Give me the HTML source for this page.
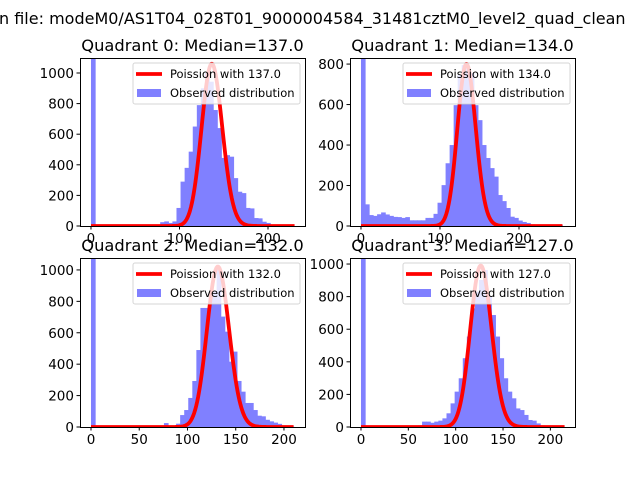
<!DOCTYPE html>
<html><head><meta charset="utf-8"><style>
body{margin:0;background:#fff}
svg{display:block;font-family:"DejaVu Sans","Liberation Sans",sans-serif}
</style></head><body>
<svg id="fig" width="640" height="480" viewBox="0 0 640 480" xmlns="http://www.w3.org/2000/svg">
<rect width="640" height="480" fill="#fff"/>
<text x="-1" y="24" font-size="16" fill="#000">n file: modeM0/AS1T04_028T01_9000004584_31481cztM0_level2_quad_clean</text>
</svg>
<script>
// ---- data ----
const medians = [137.0, 134.0, 132.0, 127.0];
const binWidths = [4.6, 5.1, 4.2, 4.3];
const peakHeights = [1060, 800, 1021, 990];
const countsQ0 = [1200,0,0,0,0,0,0,0,0,0,0,0,0,0,0,0,0,25,30,20,30,118,290,380,486,650,790,900,1000,943,758,640,445,463,453,313,224,215,118,115,52,50,28,20,5,3,0,0,0,0];
const countsQ1 = [900,107,54,50,58,67,57,50,45,44,40,44,28,28,28,28,40,40,60,115,202,310,400,597,745,795,780,755,597,523,400,336,286,244,153,123,89,46,40,27,20,15,8,5,3,3,3,3,3,3];
const countsQ2 = [1200,0,0,0,0,0,0,0,0,0,0,0,0,0,0,0,0,0,25,0,5,21,76,108,185,293,490,758,758,822,862,1015,703,607,416,480,293,225,153,153,108,72,68,46,36,28,20,10,5,2];
const countsQ3 = [1200,0,0,0,0,0,0,0,0,0,0,0,0,0,10,33,33,26,33,39,53,84,145,217,299,422,555,728,831,902,963,800,687,555,422,299,217,176,114,104,74,43,39,22,10,5,2,1,0,0];
const xTicksQ0 = [0,100,200];
const xTicksQ1 = [0,100,200];
const xTicksQ2 = [0,50,100,150,200];
const xTicksQ3 = [0,50,100,150,200];
const yTicksQ0 = [0,200,400,600,800,1000];
const yTicksQ1 = [0,200,400,600,800];
const yTicksQ2 = [0,200,400,600,800,1000];
const yTicksQ3 = [0,200,400,600,800,1000];

const counts = [countsQ0,countsQ1,countsQ2,countsQ3];
const xTicks = [xTicksQ0,xTicksQ1,xTicksQ2,xTicksQ3];
const yTicks = [yTicksQ0,yTicksQ1,yTicksQ2,yTicksQ3];
const boxes = [[80,58,225,168],[350,58,225,168],[80,258,225,169],[350,258,225,169]];
const xDom = [[-12.4,241.8],[-13.9,270.9],[-11.4,221.8],[-11.6,226]];
const yDom = [1098,830,1076,1037];

const NS="http://www.w3.org/2000/svg";
const svg=document.getElementById('fig');
function mk(tag,attrs,parent){const e=document.createElementNS(NS,tag);for(const k in attrs)e.setAttribute(k,attrs[k]);(parent||svg).appendChild(e);return e;}
function lgamma(n){let s=0;for(let i=2;i<=n;i++)s+=Math.log(i);return s;}

for(let q=0;q<4;q++){
  const [bx,by,bw,bh]=boxes[q];
  const sx=v=>bx+(v-xDom[q][0])/(xDom[q][1]-xDom[q][0])*bw;
  const sy=v=>by+bh-v/yDom[q]*bh;
  const g=mk('g',{});
  
  
  const cid='clip'+q;
  const cp=mk('clipPath',{id:cid},g);mk('rect',{x:bx,y:by,width:bw,height:bh},cp);
  const bars=mk('g',{'clip-path':'url(#'+cid+')'},g);
  
  
  const w=binWidths[q];
  counts[q].forEach((c,k)=>{
    if(c<=0)return;
    const x0=sx(k*w),x1=sx((k+1)*w);
    const r=mk('rect',{x:x0,y:sy(c),width:x1-x0+0.6,height:sy(0)-sy(c),fill:'#8080ff'},bars);
    
    
  });
  // poisson curve
  const lam=medians[q];const xmax=w*counts[q].length;
  const lp0=lam*Math.log(lam)-lam-lgamma(Math.round(lam));
  let d='';
  for(let x=0;x<=Math.round(xmax);x++){
    const lp=x*Math.log(Math.max(lam,1e-9))-lam-lgamma(x);
    const v=peakHeights[q]*Math.exp(lp-lp0);
    d+=(x?'L':'M')+sx(x).toFixed(2)+' '+sy(v).toFixed(2);
  }
  const pl=mk('path',{d:d,fill:'none',stroke:'#ff0000','stroke-width':3.8,'stroke-linejoin':'round','clip-path':'url(#'+cid+')'},g);
  
  
  // frame
  const fr=mk('rect',{x:bx+0.5,y:by+0.5,width:bw,height:bh,fill:'none',stroke:'#000','stroke-width':1},g);
  
  
  // ticks
  xTicks[q].forEach(t=>{
    const x=sx(t);
    mk('line',{x1:x,x2:x,y1:by+bh,y2:by+bh+3.5,stroke:'#000'},g);
    const tx=mk('text',{x:x,y:by+bh+17,'font-size':13.5,'text-anchor':'middle'},g);
    tx.textContent=t;
    
    
  });
  yTicks[q].forEach(t=>{
    const y=sy(t);
    mk('line',{x1:bx,x2:bx-3.5,y1:y,y2:y,stroke:'#000'},g);
    const tx=mk('text',{x:bx-6,y:y+5,'font-size':13.5,'text-anchor':'end'},g);
    tx.textContent=t;
    
    
  });
  // title
  const ti=mk('text',{x:bx+bw/2,y:by-7,'font-size':16.3,'text-anchor':'middle'},g);
  ti.textContent='Quadrant '+q+': Median='+medians[q].toFixed(1);
  
  
  // legend
  const lg=mk('g',{},g);
  
  
  const lx=bx+bw-172,ly=by+5;
  mk('rect',{x:lx,y:ly,width:167,height:41,rx:2,fill:'#fff','fill-opacity':0.8,stroke:'#cccccc','stroke-opacity':0.8},lg);
  mk('line',{x1:lx+3,x2:lx+29,y1:ly+11,y2:ly+11,stroke:'#ff0000','stroke-width':3.8},lg);
  const t1=mk('text',{x:lx+37,y:ly+15,'font-size':11.5},lg);
  t1.textContent='Poission with '+medians[q].toFixed(1);
  
  
  mk('rect',{x:lx+4,y:ly+26,width:24,height:8,fill:'#8080ff'},lg);
  const t2=mk('text',{x:lx+37,y:ly+34,'font-size':11.5},lg);
  t2.textContent='Observed distribution';
  
  
}
</script>
</body></html>
